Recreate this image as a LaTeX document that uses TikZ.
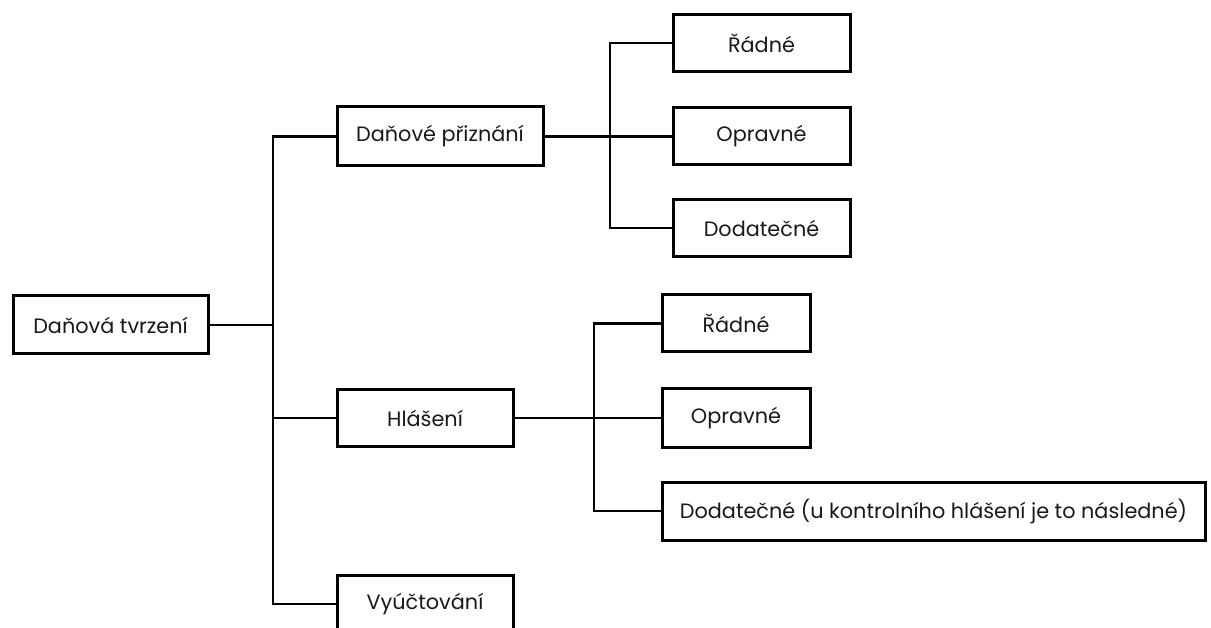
\documentclass[tikz,border=0pt]{standalone}
\usepackage{fontspec}
\setmainfont{Poppins}
\begin{document}
\begin{tikzpicture}[x=1pt,y=-1pt,
  box/.style={draw=black, line width=3pt, fill=white, inner sep=0pt, align=center,
    font=\fontsize{20.8}{24}\selectfont, text=black!90},
  conn/.style={draw=black, line width=2.6pt}]
\useasboundingbox (0,0) rectangle (1211,628);
\clip (0,0) rectangle (1211,628);
% level 1
\node[box, minimum width=195pt, minimum height=58pt] (root) at (110.5,325) {Daňová tvrzení};
% level 2
\node[box, minimum width=206pt, minimum height=59pt] (dp) at (440,136.5) {Daňové přiznání};
\node[box, minimum width=176pt, minimum height=57pt] (hl) at (425,418) {Hlášení};
\node[box, minimum width=176pt, minimum height=57pt] (vy) at (425,604) {Vyúčtování};
% level 3, group 1
\node[box, minimum width=177pt, minimum height=57pt] (r1) at (761.5,43) {Řádné};
\node[box, minimum width=177pt, minimum height=57pt] (o1) at (761.5,136.5) {Opravné};
\node[box, minimum width=177pt, minimum height=57pt] (d1) at (761.5,228) {Dodatečné};
% level 3, group 2
\node[box, minimum width=148pt, minimum height=57pt] (r2) at (736,323.5) {Řádné};
\node[box, minimum width=148pt, minimum height=58pt] (o2) at (736,418) {Opravné};
\node[box, minimum width=543pt, minimum height=58pt] (d2) at (933.5,511) {Dodatečné (u kontrolního hlášení je to následné)};
% trunks
\coordinate (t1) at (273,0);
\coordinate (t2) at (610,0);
\coordinate (t3) at (594,0);
\draw[conn] (root.east) -- (root.east -| t1);
\draw[conn] (dp.west) -- (dp.west -| t1) -- (vy.west -| t1) -- (vy.west);
\draw[conn] (hl.west) -- (hl.west -| t1);
\draw[conn] (r1.west) -- (r1.west -| t2) -- (d1.west -| t2) -- (d1.west);
\draw[conn] (dp.east) -- (o1.west);
\draw[conn] (r2.west) -- (r2.west -| t3) -- (d2.west -| t3) -- (d2.west);
\draw[conn] (hl.east) -- (o2.west);
\end{tikzpicture}
\end{document}
